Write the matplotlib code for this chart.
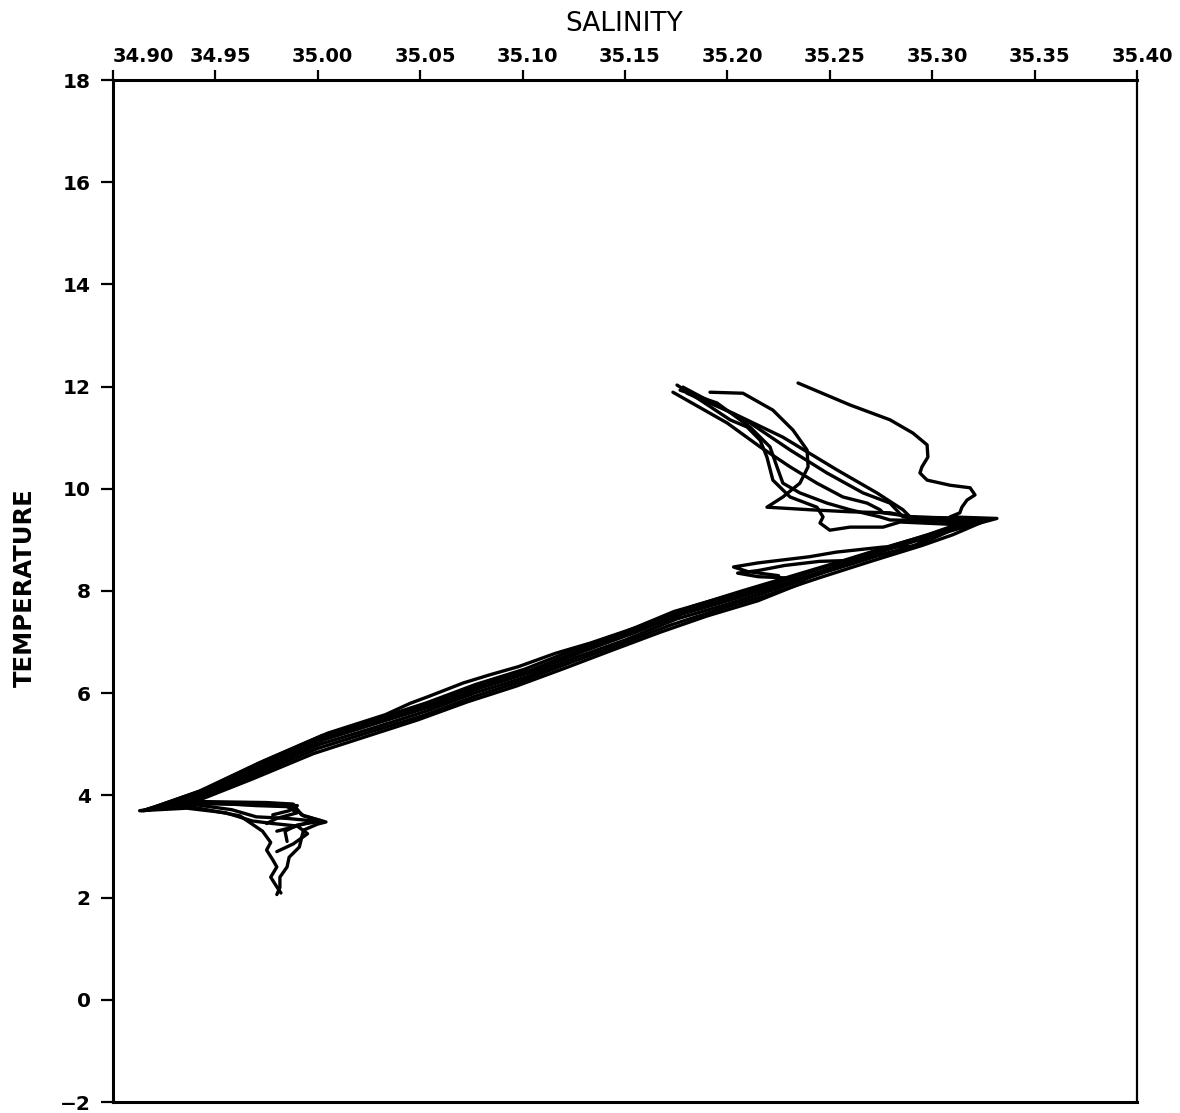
import matplotlib
matplotlib.use("Agg")
import matplotlib.pyplot as plt
from matplotlib.transforms import ScaledTranslation

# ---------------- data (salinity, temperature) ----------------
sal_ticks = [34.90, 34.95, 35.00, 35.05, 35.10, 35.15, 35.20, 35.25, 35.30, 35.35, 35.40]
sal_labels = ["34.90", "34.95", "35.00", "35.05", "35.10", "35.15", "35.20",
              "35.25", "35.30", "35.35", "35.40"]
temp_ticks = [-2, 0, 2, 4, 6, 8, 10, 12, 14, 16, 18]

cast1_sal = [35.2345, 35.2599, 35.2794, 35.2906, 35.2975, 35.2979, 35.2950, 35.2940,
             35.2975, 35.3087, 35.3185, 35.3209, 35.3170, 35.3145, 35.3135, 35.3087,
             35.3316, 35.300, 35.276, 35.252, 35.227, 35.202, 35.178, 35.153, 35.129,
             35.105, 35.080, 35.056, 35.031, 35.003, 34.972, 34.943, 34.916,
             34.940, 34.965, 34.987, 34.993, 35.004, 35.000, 34.993, 34.991, 34.986,
             34.985, 34.9815, 34.9815, 34.980]
cast1_temp = [12.07, 11.64, 11.35, 11.09, 10.86, 10.62, 10.43, 10.31, 10.17, 10.07, 10.02,
              9.88, 9.78, 9.64, 9.53, 9.45,
              9.42, 9.08, 8.78, 8.47, 8.13, 7.83, 7.55, 7.16, 6.81, 6.42, 6.11, 5.75, 5.44,
              5.09, 4.55, 4.02, 3.72,
              3.86, 3.84, 3.82, 3.60, 3.48, 3.44, 3.32, 2.99, 2.79, 2.60, 2.40, 2.20, 2.06]

cast2_sal = [35.1734, 35.1998, 35.2160, 35.2306, 35.2437, 35.2564, 35.2682, 35.2745, 35.2760,
             35.300, 35.320, 35.296, 35.272, 35.247, 35.224, 35.199, 35.175, 35.150,
             35.126, 35.102, 35.077, 35.053, 35.028, 35.001, 34.970, 34.941, 34.917,
             34.935, 34.962, 34.973, 34.977, 34.975, 34.978, 34.980, 34.977, 34.980, 34.982]
cast2_temp = [11.89, 11.29, 10.82, 10.43, 10.11, 9.84, 9.72, 9.59, 9.53,
              9.40, 9.38, 8.95, 8.67, 8.36, 8.04, 7.73, 7.45, 7.04, 6.70, 6.32, 6.01, 5.65,
              5.33, 5.00, 4.46, 3.95, 3.72,
              3.80, 3.60, 3.30, 3.08, 2.93, 2.74, 2.60, 2.40, 2.21, 2.09]

cast3_sal = [35.1783, 35.2110, 35.2306, 35.2486, 35.2662, 35.2794, 35.2857,
             35.315, 35.300, 35.291, 35.276, 35.253, 35.240, 35.215, 35.203, 35.210,
             35.225, 35.224, 35.200, 35.174, 35.150, 35.125, 35.101, 35.077, 35.053,
             35.029, 35.002, 34.971, 34.942, 34.915,
             34.942, 34.975, 34.988, 34.992, 35.002, 34.990, 34.984, 34.985]
cast3_temp = [11.99, 11.29, 10.76, 10.31, 9.92, 9.72, 9.45,
              9.33, 9.10, 8.87, 8.86, 8.76, 8.67, 8.55, 8.47, 8.38, 8.30, 8.18, 7.90, 7.60,
              7.20, 6.85, 6.47, 6.17, 5.81, 5.50, 5.17, 4.63, 4.08, 3.70,
              3.88, 3.86, 3.83, 3.62, 3.50, 3.42, 3.30, 3.10]

cast4_sal = [35.1803, 35.2027, 35.2271, 35.2535, 35.2730, 35.2857, 35.2892,
             35.325, 35.305, 35.281, 35.257, 35.232, 35.207, 35.183, 35.158, 35.133,
             35.116, 35.098, 35.084, 35.071, 35.055, 35.045, 35.033, 35.005, 34.974,
             34.945, 34.918,
             34.938, 34.958, 34.970, 34.985, 34.998, 34.988, 34.980]
cast4_temp = [11.87, 11.48, 11.01, 10.37, 9.92, 9.59, 9.45,
              9.40, 9.18, 8.90, 8.60, 8.30, 8.00, 7.70, 7.32, 6.98, 6.78, 6.52, 6.36, 6.20,
              5.95, 5.80, 5.58, 5.22, 4.68, 4.12, 3.74,
              3.83, 3.72, 3.58, 3.55, 3.50, 3.38, 3.30]

cast5_sal = [35.1915, 35.2076, 35.2222, 35.2320, 35.2389, 35.2394, 35.2354, 35.2271,
             35.2193, 35.2403, 35.2599, 35.2794, 35.2892,
             35.328, 35.310, 35.295, 35.270, 35.245, 35.221, 35.196, 35.172, 35.148,
             35.124, 35.100, 35.076, 35.052, 35.027, 35.000, 34.969, 34.940, 34.914,
             34.945, 34.970, 34.985, 34.990, 34.980, 34.975]
cast5_temp = [11.89, 11.87, 11.54, 11.15, 10.76, 10.43, 10.11, 9.84, 9.64, 9.59, 9.55,
              9.53, 9.45,
              9.41, 9.10, 8.89, 8.58, 8.26, 7.94, 7.64, 7.33, 6.96, 6.61, 6.24, 5.93, 5.57,
              5.26, 4.92, 4.39, 3.90, 3.70,
              3.86, 3.80, 3.78, 3.66, 3.55, 3.45]

cast6_sal = [35.1769, 35.1949, 35.2110, 35.2208, 35.2242, 35.2271, 35.2354, 35.2486,
             35.2599, 35.2745, 35.2794,
             35.305, 35.318, 35.300, 35.290, 35.262, 35.245, 35.228, 35.215, 35.205,
             35.215, 35.232, 35.238, 35.215, 35.190, 35.167, 35.143, 35.120, 35.097,
             35.073, 35.049, 35.025, 34.998, 34.968, 34.939, 34.913,
             34.936, 34.955, 34.968, 34.978, 34.990, 34.995, 34.988, 34.980]
cast6_temp = [11.93, 11.68, 11.21, 10.82, 10.43, 10.11, 9.92, 9.72, 9.59, 9.45, 9.39,
              9.37, 9.36, 9.08, 8.84, 8.60, 8.58, 8.50, 8.40, 8.35, 8.28, 8.25, 8.18, 7.81,
              7.51, 7.19, 6.83, 6.48, 6.14, 5.83, 5.48, 5.17, 4.82, 4.32, 3.86, 3.70,
              3.75, 3.66, 3.50, 3.45, 3.40, 3.25, 3.05, 2.90]

cast7_sal = [35.1754, 35.1866, 35.2013, 35.2096, 35.2160, 35.2193, 35.2222, 35.2306,
             35.2437, 35.2467, 35.2452, 35.2500, 35.2599, 35.2760, 35.2843,
             35.312, 35.297, 35.273, 35.249, 35.225, 35.201, 35.177, 35.152, 35.128,
             35.104, 35.079, 35.055, 35.030, 35.002, 34.971, 34.942, 34.916,
             34.940, 34.968, 34.990, 34.986, 34.978]
cast7_temp = [12.03, 11.74, 11.35, 11.21, 10.95, 10.62, 10.17, 9.84, 9.64, 9.45, 9.33,
              9.19, 9.25, 9.25, 9.35,
              9.30, 9.09, 8.79, 8.49, 8.16, 7.87, 7.58, 7.19, 6.84, 6.45, 6.15, 5.78, 5.47,
              5.13, 4.59, 4.04, 3.72,
              3.84, 3.82, 3.80, 3.70, 3.62]

casts = [(cast1_sal, cast1_temp), (cast2_sal, cast2_temp), (cast3_sal, cast3_temp),
         (cast4_sal, cast4_temp), (cast5_sal, cast5_temp), (cast6_sal, cast6_temp),
         (cast7_sal, cast7_temp)]

# ---------------- figure ----------------
W, H = 1180, 1113
fig = plt.figure(figsize=(W / 100, H / 100), dpi=100)
ax = fig.add_axes([113 / W, 11 / H, 1024 / W, 1022 / H])

for s, t in casts:
    ax.plot(s, t, color="black", lw=2.4, solid_joinstyle="round", solid_capstyle="round")

ax.set_xlim(34.90, 35.40)
ax.set_ylim(-2, 18)

ax.xaxis.tick_top()
ax.set_xticks(sal_ticks)
ax.set_xticklabels(sal_labels, fontsize=14, fontweight="bold")
ax.set_yticks(temp_ticks)
ax.set_yticklabels([str(v).replace("-", "\u2212") for v in temp_ticks],
                   fontsize=14.5, fontweight="bold")
ax.tick_params(axis="x", direction="out", length=7, width=1.6, pad=3)
ax.tick_params(axis="y", direction="out", length=9, width=1.6, pad=7)

labels = ax.get_xticklabels()
shift = ScaledTranslation(0.05, 0, fig.dpi_scale_trans)
for i, lbl in enumerate(labels):
    if i == 0:
        lbl.set_horizontalalignment("left")
    else:
        lbl.set_transform(lbl.get_transform() + shift)

for side in ["left", "top", "bottom"]:
    ax.spines[side].set_linewidth(2.2)
ax.spines["right"].set_linewidth(1.6)

fig.text(624 / W, 1 - 24 / H, "SALINITY", ha="center", va="center", fontsize=19)
fig.text(25 / W, 1 - 588 / H, "TEMPERATURE", rotation=90, ha="center", va="center",
         fontsize=17.5, fontweight="bold")

fig.savefig("out.png", dpi=100)
